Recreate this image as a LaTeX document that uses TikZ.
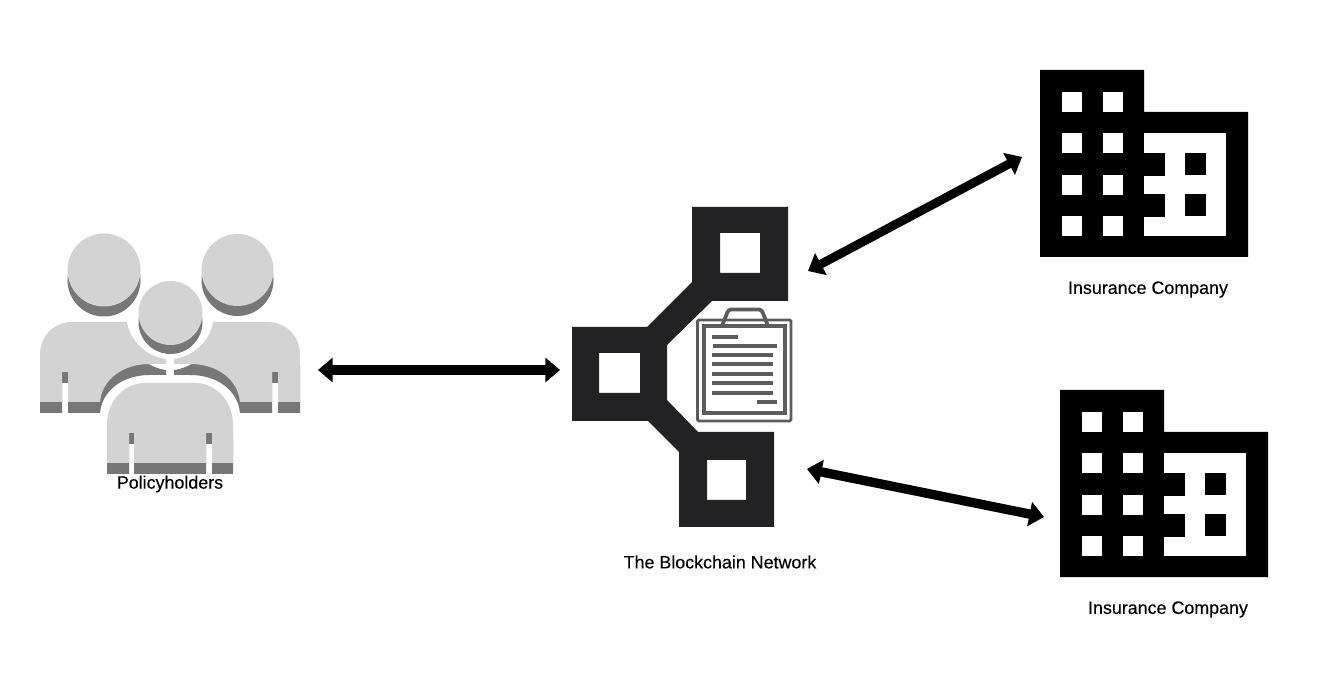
\documentclass[tikz,border=0pt]{standalone}
\usepackage{fontspec}
\setmainfont[FakeBold=0.2]{Liberation Sans}
\usepackage{xcolor}
\usetikzlibrary{arrows.meta}
\definecolor{UserLight}{HTML}{D3D3D3}
\definecolor{UserDark}{HTML}{777777}
\definecolor{ChainDark}{HTML}{222224}
\definecolor{DocGray}{HTML}{5C5C5C}
\tikzset{
  lbl/.style={font=\fontsize{13.4}{15}\selectfont,text=black,inner sep=0pt},
  link/.style={{Stealth[length=11pt,width=18pt,inset=0pt]}-{Stealth[length=11pt,width=18pt,inset=0pt]},line width=#1,black},
  docline/.style={DocGray,line width=3.6pt},
  backbody/.pic={
    \foreach \dy/\col in {11/UserDark,0/UserLight}
      \fill[\col,shift={(0,\dy)}] (40,402) -- (40,355) .. controls (40,335) and (55,322) .. (72,322)
        -- (127,322) .. controls (130,342) and (148,357) .. (166,359) -- (166,364) -- (150,364)
        .. controls (122,364) and (102,380) .. (100,402) -- (68,402) -- (68,372) -- (62,372)
        -- (62,402) -- cycle;
  },
  building/.pic={
    \fill[black] (0,0) -- (104,0) -- (104,42) -- (208,42) -- (208,187) -- (0,187) -- cycle;
    \fill[white] (104,63) -- (186,63) -- (186,166) -- (104,166) -- cycle;
    \fill[black] (100,83) rectangle (125,106);
    \fill[black] (100,124) rectangle (125,147);
    \foreach \wy in {83,124}
      \fill[black] (145,\wy) rectangle (166,\wy+22);
    \foreach \wx in {22,63}
      \foreach \wy in {22,63,105,146}
        \fill[white] (\wx,\wy) rectangle (\wx+20,\wy+20);
  }
}
\begin{document}
\begin{tikzpicture}[x=0.75pt,y=-0.75pt]
  \useasboundingbox (0,0) rectangle (1328,680);
  % policyholders
  \pic (bodyleft) at (0,0) {backbody};
  \pic[xscale=-1] (bodyright) at (340,0) {backbody};
  \foreach \dy/\col in {11/UserDark,0/UserLight}
    \fill[\col,shift={(0,\dy)}] (107,463) -- (107,425) .. controls (107,400) and (125,383) .. (145,383)
      -- (195,383) .. controls (215,383) and (233,400) .. (233,425) -- (233,463) -- (212,463)
      -- (212,433) -- (206,433) -- (206,463) -- (134,463) -- (134,433) -- (129,433) -- (129,463) -- cycle;
  \foreach \hx/\hy/\hr/\hd in {104/270/36.5/10,237.5/270/36/10,170.5/313/32/9}{
    \fill[UserDark] (\hx,\hy+\hd) circle[radius=\hr];
    \fill[UserLight] (\hx,\hy) circle[radius=\hr];
  }
  \node[lbl] (users) at (170,484) {Policyholders};
  % blockchain
  \fill[ChainDark,even odd rule] (692,207) -- (788,207) -- (788,301) -- (712,301) -- (667,345) -- (667,400)
    -- (698,432) -- (774,432) -- (774,527) -- (679,527) -- (679,452) -- (648,421) -- (572,421)
    -- (572,327) -- (647,327) -- (692,282) -- cycle
    (720,233) rectangle (760,273) (599,353) rectangle (640,393) (707,460) rectangle (746,500);
  \node[lbl] (chain) at (720,562) {The Blockchain Network};
  % contract
  \draw[DocGray,line width=2.2pt,rounded corners=1pt] (697.5,320) rectangle (791,421);
  \fill[white] (701,323) rectangle (788,418);
  \draw[DocGray,line width=3.6pt] (704,326) rectangle (785,413);
  \draw[DocGray,line width=2.8pt,rounded corners=2pt] (722,326) -- (728.5,309.5) -- (761.5,309.5) -- (768,326);
  \draw[docline] (712,337) -- (738,337);
  \draw[docline] (713,346) -- (777,346);
  \foreach \ly in {355,364,374,383,393}
    \draw[docline] (712,\ly) -- (773,\ly);
  \draw[docline] (757,402) -- (777,402);
  % insurers
  \pic (bldgone) at (1040,70) {building};
  \pic (bldgtwo) at (1060,390) {building};
  \node[lbl] (insone) at (1148,289.5) {Insurance Company};
  \node[lbl] (instwo) at (1168,609.5) {Insurance Company};
  % connectors
  \coordinate (usersE) at (318,370);
  \coordinate (chainW) at (560,370);
  \coordinate (chainNE) at (808,271);
  \coordinate (chainSE) at (807,469);
  \coordinate (bldgoneW) at (1022,157);
  \coordinate (bldgtwoW) at (1044,517);
  \draw[link=7.6pt] (usersE) -- (chainW);
  \draw[link=6.6pt] (chainNE) -- (bldgoneW);
  \draw[link=7pt] (chainSE) -- (bldgtwoW);
\end{tikzpicture}
\end{document}
